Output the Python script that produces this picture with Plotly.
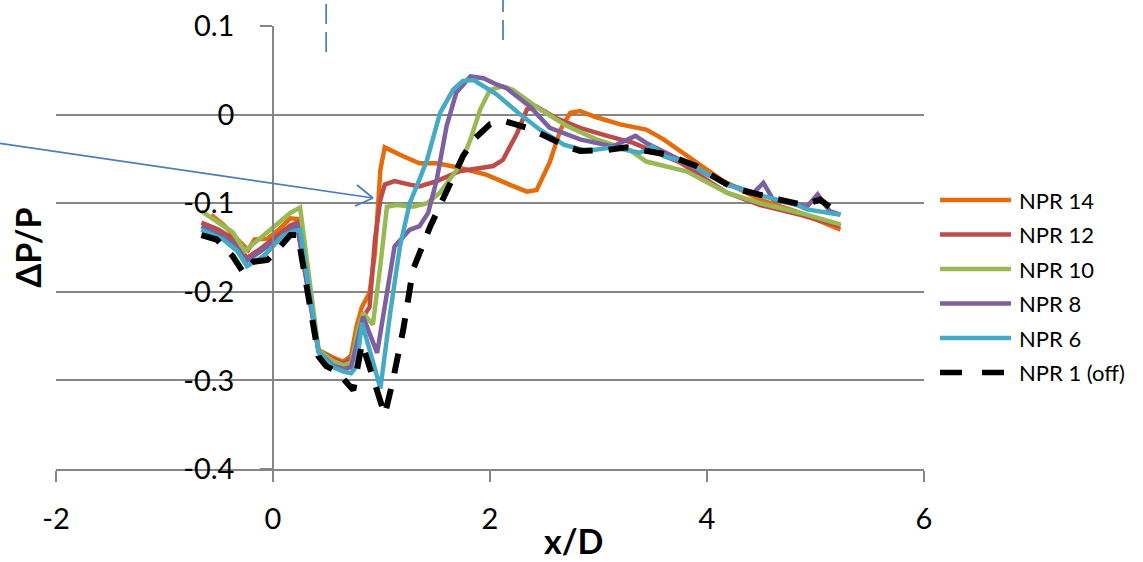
import plotly.graph_objects as go

# ---------------- data ----------------
x_npr14 = [-0.57, -0.45, -0.35, -0.23, -0.17, -0.05, 0.05, 0.16, 0.24, 0.42, 0.55, 0.65, 0.72, 0.77, 0.82, 0.89, 0.94, 0.99, 1.03, 1.12, 1.2, 1.35, 1.51, 1.72, 1.97, 2.18, 2.34, 2.43, 2.55, 2.65, 2.74, 2.83, 2.98, 3.2, 3.44, 3.6, 3.75, 4.15, 4.49, 4.86, 5.23]
y_npr14 = [-0.113, -0.125, -0.138, -0.153, -0.141, -0.140, -0.130, -0.117, -0.118, -0.266, -0.274, -0.279, -0.272, -0.239, -0.217, -0.201, -0.156, -0.062, -0.037, -0.043, -0.047, -0.055, -0.055, -0.060, -0.068, -0.079, -0.087, -0.085, -0.054, -0.017, 0.002, 0.004, -0.003, -0.011, -0.017, -0.028, -0.041, -0.075, -0.096, -0.111, -0.130]

x_npr12 = [-0.66, -0.5, -0.37, -0.24, -0.1, 0.05, 0.16, 0.22, 0.42, 0.55, 0.65, 0.72, 0.78, 0.85, 0.89, 0.94, 0.99, 1.03, 1.12, 1.26, 1.35, 1.51, 1.72, 2.03, 2.12, 2.18, 2.25, 2.34, 2.43, 2.61, 2.83, 3.08, 3.32, 3.75, 4.18, 4.49, 4.86, 5.23]
y_npr12 = [-0.122, -0.130, -0.140, -0.162, -0.150, -0.135, -0.125, -0.122, -0.266, -0.276, -0.281, -0.275, -0.245, -0.225, -0.217, -0.141, -0.096, -0.079, -0.075, -0.079, -0.081, -0.075, -0.064, -0.058, -0.051, -0.037, -0.021, 0.006, 0.009, -0.004, -0.015, -0.024, -0.032, -0.054, -0.088, -0.102, -0.113, -0.126]

x_npr10 = [-0.66, -0.5, -0.37, -0.26, -0.1, 0.05, 0.16, 0.25, 0.42, 0.55, 0.65, 0.72, 0.78, 0.83, 0.92, 0.99, 1.05, 1.14, 1.29, 1.42, 1.54, 1.63, 1.72, 1.82, 1.91, 2.0, 2.12, 2.21, 2.46, 2.71, 2.98, 3.29, 3.44, 3.81, 4.18, 4.49, 4.86, 5.23]
y_npr10 = [-0.109, -0.122, -0.133, -0.154, -0.137, -0.122, -0.111, -0.105, -0.266, -0.278, -0.283, -0.280, -0.245, -0.224, -0.237, -0.170, -0.104, -0.102, -0.104, -0.100, -0.088, -0.073, -0.058, -0.028, 0.006, 0.028, 0.032, 0.028, 0.006, -0.013, -0.028, -0.040, -0.053, -0.064, -0.088, -0.100, -0.111, -0.124]

x_npr8 = [-0.66, -0.5, -0.37, -0.24, -0.1, 0.05, 0.16, 0.22, 0.42, 0.55, 0.65, 0.72, 0.77, 0.83, 0.96, 1.05, 1.12, 1.26, 1.35, 1.43, 1.51, 1.6, 1.69, 1.82, 1.94, 2.06, 2.15, 2.37, 2.55, 2.83, 3.13, 3.34, 3.44, 3.75, 4.15, 4.43, 4.52, 4.61, 4.92, 5.02, 5.13, 5.23]
y_npr8 = [-0.126, -0.135, -0.145, -0.165, -0.153, -0.140, -0.130, -0.124, -0.268, -0.283, -0.287, -0.285, -0.260, -0.228, -0.269, -0.205, -0.149, -0.130, -0.126, -0.111, -0.073, -0.013, 0.025, 0.043, 0.041, 0.034, 0.030, 0.009, -0.015, -0.028, -0.036, -0.024, -0.032, -0.051, -0.077, -0.088, -0.077, -0.096, -0.104, -0.090, -0.109, -0.113]

x_npr6 = [-0.66, -0.46, -0.33, -0.24, -0.09, 0.09, 0.18, 0.25, 0.42, 0.55, 0.65, 0.72, 0.77, 0.82, 0.99, 1.08, 1.17, 1.26, 1.35, 1.42, 1.54, 1.66, 1.75, 1.85, 2.06, 2.28, 2.46, 2.68, 2.89, 3.13, 3.38, 3.5, 3.6, 3.81, 4.18, 4.52, 4.83, 4.92, 5.23]
y_npr6 = [-0.130, -0.141, -0.154, -0.171, -0.160, -0.137, -0.132, -0.130, -0.268, -0.285, -0.290, -0.292, -0.284, -0.235, -0.309, -0.224, -0.149, -0.100, -0.073, -0.051, 0.002, 0.028, 0.038, 0.039, 0.023, 0.000, -0.017, -0.034, -0.041, -0.037, -0.043, -0.036, -0.047, -0.054, -0.079, -0.092, -0.102, -0.107, -0.113]

x_npr1 = [-0.66, -0.52, -0.37, -0.27, -0.18, -0.05, 0.03, 0.16, 0.23, 0.42, 0.49, 0.59, 0.74, 0.82, 1.03, 1.1, 1.2, 1.29, 1.45, 1.6, 1.75, 1.85, 2.0, 2.15, 2.34, 2.49, 2.71, 2.83, 3.08, 3.26, 3.44, 3.63, 3.9, 4.24, 4.67, 4.89, 5.04, 5.13]
y_npr1 = [-0.136, -0.141, -0.160, -0.179, -0.166, -0.164, -0.154, -0.136, -0.136, -0.273, -0.284, -0.290, -0.311, -0.258, -0.339, -0.303, -0.243, -0.175, -0.126, -0.088, -0.047, -0.028, -0.011, -0.008, -0.015, -0.023, -0.036, -0.041, -0.040, -0.037, -0.041, -0.045, -0.058, -0.083, -0.096, -0.102, -0.096, -0.104]

series_names = ["NPR 14", "NPR 12", "NPR 10", "NPR 8", "NPR 6", "NPR 1 (off)"]
series_x = [x_npr14, x_npr12, x_npr10, x_npr8, x_npr6, x_npr1]
series_y = [y_npr14, y_npr12, y_npr10, y_npr8, y_npr6, y_npr1]

x_tick_vals = [-2, 0, 2, 4, 6]
x_tick_text = ["-2", "0", "2", "4", "6"]
y_tick_vals = [-0.4, -0.3, -0.2, -0.1, 0.0, 0.1]
y_tick_text = ["-0.4", "-0.3", "-0.2", "-0.1", "0", "0.1"]

marker_x = [0.49, 2.12]   # blue dashed markers at the top

# ---------------- styles ----------------
colors = ["#E46C0A", "#BE4B48", "#98B954", "#7D60A0", "#46AAC5", "#000000"]
widths = [4.5, 4.5, 4.5, 4.5, 4.5, 6]
dashes = ["solid"] * 5 + ["20px,16px"]
legend_dashes = ["solid"] * 5 + ["22px,20px"]
FONT = "Lato"
GRID = "#868686"
W, H = 1143, 562
ML, MR, MT, MB = 56, 219, 26, 93
PW, PH = W - ML - MR, H - MT - MB


def px_to_paper(px, py):
    return (px - ML) / PW, (H - MB - py) / PH


fig = go.Figure()
for name, xs, ys, c, w, d in zip(series_names, series_x, series_y, colors, widths, dashes):
    fig.add_trace(go.Scatter(x=xs, y=ys, mode="lines", name=name, showlegend=False,
                             line=dict(color=c, width=w, dash=d)))

# y axis crosses at x = 0
y_axis_pos = (0 - (-2)) / (6 - (-2))

fig.update_layout(
    template="none",
    width=W, height=H,
    margin=dict(l=ML, r=MR, t=MT, b=MB, pad=0, autoexpand=False),
    paper_bgcolor="white", plot_bgcolor="white",
    font=dict(family=FONT, size=29, color="black"),
    showlegend=False,
    xaxis=dict(range=[-2, 6], tickvals=x_tick_vals, ticktext=x_tick_text, automargin=False,
               showgrid=False, zeroline=False, showline=True, linecolor=GRID, linewidth=1.5,
               ticks="outside", ticklen=11, tickwidth=1.5, tickcolor=GRID,
               ticklabelstandoff=12, tickfont=dict(family=FONT, size=29, color="black")),
    yaxis=dict(range=[-0.4, 0.1], tickvals=y_tick_vals, ticktext=y_tick_text, automargin=False,
               anchor="free", position=y_axis_pos,
               showgrid=True, gridcolor=GRID, gridwidth=1.5, zeroline=False,
               showline=True, linecolor=GRID, linewidth=1.5,
               ticks="outside", ticklen=12, tickwidth=1.5, tickcolor=GRID,
               ticklabelstandoff=20, tickfont=dict(family=FONT, size=29, color="black")),
)

# axis titles
fig.add_annotation(text="<b>x/D</b>", xref="paper", yref="paper",
                   x=px_to_paper(573, 0)[0], y=px_to_paper(0, 540)[1],
                   showarrow=False, font=dict(family=FONT, size=34, color="black"),
                   xanchor="center", yanchor="middle")
fig.add_annotation(text="<b>ΔP/P</b>", xref="paper", yref="paper", textangle=-90,
                   x=px_to_paper(27, 0)[0], y=0.5,
                   showarrow=False, font=dict(family=FONT, size=34, color="black"),
                   xanchor="center", yanchor="middle")

# legend (drawn as line samples + labels to match the long sample lines)
leg_rows = [200, 234.5, 269, 303.5, 338, 372.5]
for name, c, w, d, ry in zip(series_names, colors, widths, legend_dashes, leg_rows):
    x0, y0 = px_to_paper(940, ry)
    x1, _ = px_to_paper(1011 if d == "solid" else 1004, ry)
    fig.add_shape(type="line", xref="paper", yref="paper", x0=x0, x1=x1, y0=y0, y1=y0,
                  line=dict(color=c, width=w if d == "solid" else 5.5, dash=d))
    fig.add_annotation(text=name, xref="paper", yref="paper",
                       x=px_to_paper(1017, 0)[0], y=y0, showarrow=False,
                       xanchor="left", yanchor="middle",
                       font=dict(family=FONT, size=22, color="black"))

# blue dashed markers at the top (x in data units, y in paper units)
for mx, bottom_px in zip(marker_x, [52, 40]):
    fig.add_shape(type="line", xref="x", yref="paper",
                  x0=mx, x1=mx, y0=px_to_paper(0, bottom_px)[1], y1=px_to_paper(0, 0)[1],
                  line=dict(color="#4A7EBB", width=1.75, dash="20px,8px"))

# pointer arrow with open head
ARROW = "#4A7EBB"
tail = px_to_paper(-2, 143)
tip = px_to_paper(373, 198)
arm1 = px_to_paper(357, 185)
arm2 = px_to_paper(355, 206)
for (a, b) in [(tail, tip), (arm1, tip), (arm2, tip)]:
    fig.add_shape(type="line", xref="paper", yref="paper",
                  x0=a[0], y0=a[1], x1=b[0], y1=b[1],
                  line=dict(color=ARROW, width=1.75))

fig.write_html("out.html")
